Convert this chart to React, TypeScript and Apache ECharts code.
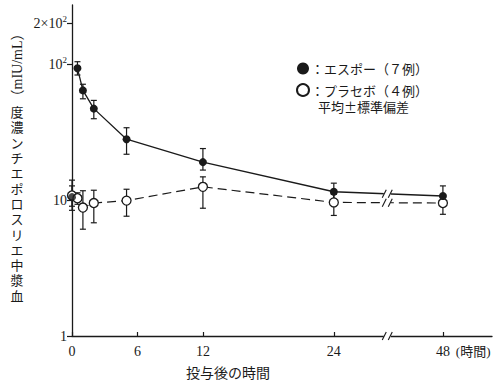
import React, { useEffect, useRef } from 'react';
import * as echarts from 'echarts';

// ---- data ----
const hours = [0, 0.5, 1, 2, 5, 12, 24, 48];
const espoMean = [10.5, 93, 64, 47, 28, 19, 11.5, 10.7];
const espoHigh = [12.7, 104, 71, 54, 34, 23.9, 13.3, 12.7];
const espoLow = [8.4, 83, 55.5, 39.6, 21.7, 16.6, 9.9, 9.0];
const placeboMean = [10.8, 10.3, 8.8, 9.5, 9.9, 12.5, 9.6, 9.5];
const placeboHigh = [14.0, 11.3, 11.7, 11.8, 12.0, 14.8, 11.0, 10.6];
const placeboLow = [9.0, 9.3, 6.1, 6.8, 7.6, 8.7, 7.7, 7.85];

const xTickHours = [0, 6, 12, 24, 48];
const xTickLabels = ['0', '6', '12', '24', '48'];
const yTickValues = [1, 10, 100, 200];
const yTickLabels = ['1', '10', '10{sup|2}', '2×10{sup|2}'];

const espoName = '：エスポー（７例）';
const placeboName = '：プラセボ（４例）';
const noteText = '平均±標準偏差';
const yNameText = '血漿中エリスロポエチン濃度';
const yUnitText = '（mIU/mL）';
const xNameText = '投与後の時間';
const xUnitText = '(時間)';

// ---- axis break mapping (24h -> 48h compressed) ----
const BREAK_FROM = 24;
const POS_48 = 34;
const BREAK_MARK = 28.9;
const X_MAX = 38.5;
const pos = (h: number) => (h <= BREAK_FROM ? h : BREAK_FROM + ((h - BREAK_FROM) * (POS_48 - BREAK_FROM)) / (48 - BREAK_FROM));
const lg = (v: number) => Math.log10(v);

const SERIF = "'Liberation Serif', 'Noto Sans CJK JP', serif";
const CJK = "'Noto Sans CJK JP', 'Liberation Serif', sans-serif";
const INK = '#1a1a1a';

const errorBar = (params: any, api: any) => {
  const x = api.value(0);
  const lo = api.coord([x, api.value(1)]);
  const hi = api.coord([x, api.value(2)]);
  const w = 3;
  const st = { stroke: INK, lineWidth: 1.2 };
  return {
    type: 'group',
    children: [
      { type: 'line', shape: { x1: lo[0], y1: lo[1], x2: hi[0], y2: hi[1] }, style: st },
      { type: 'line', shape: { x1: lo[0] - w, y1: lo[1], x2: lo[0] + w, y2: lo[1] }, style: st },
      { type: 'line', shape: { x1: hi[0] - w, y1: hi[1], x2: hi[0] + w, y2: hi[1] }, style: st },
    ],
  };
};

const breakMark = (params: any, api: any) => {
  const p = api.coord([api.value(0), api.value(1)]);
  const st = { stroke: INK, lineWidth: 1.1 };
  return {
    type: 'group',
    children: [
      { type: 'rect', shape: { x: p[0] - 3.5, y: p[1] - 3, width: 7, height: 6 }, style: { fill: '#fff' } },
      { type: 'line', shape: { x1: p[0] - 5, y1: p[1] + 4, x2: p[0] - 1, y2: p[1] - 4 }, style: st },
      { type: 'line', shape: { x1: p[0] + 1, y1: p[1] + 4, x2: p[0] + 5, y2: p[1] - 4 }, style: st },
    ],
  };
};

const interpAtBreak = (vals: number[]) => {
  const a = lg(vals[hours.indexOf(24)]);
  const b = lg(vals[hours.indexOf(48)]);
  return a + ((BREAK_MARK - pos(24)) / (pos(48) - pos(24))) * (b - a);
};

export default function App() {
  const ref = useRef<HTMLDivElement>(null);
  useEffect(() => {
    document.body.style.margin = '0';
    const chart = echarts.init(ref.current!, null, { renderer: 'svg' });
    const xTickPos = xTickHours.map(pos);
    const yTickPos = yTickValues.map(lg);
    // the first Espo sample (t = 0) is drawn as a lone point; the curve starts at 0.5 h
    const espoPoints = hours.map((h, i) => [pos(h), lg(espoMean[i])]);
    chart.setOption({
      animation: false,
      backgroundColor: '#fff',
      grid: { left: 72, right: 8, top: 5, bottom: 50 },
      title: {
        text: noteText,
        left: 318,
        top: 100,
        padding: 0,
        textStyle: { fontSize: 13, fontWeight: 'normal', color: INK, fontFamily: CJK },
      },
      legend: {
        left: 291,
        top: 57,
        orient: 'vertical',
        icon: 'circle',
        itemWidth: 12,
        itemHeight: 12,
        itemGap: 8,
        selectedMode: false,
        textStyle: { fontSize: 13, color: INK, fontFamily: CJK, padding: [0, 0, 0, -3] },
        data: [espoName, placeboName],
      },
      xAxis: {
        type: 'value',
        min: 0,
        max: X_MAX,
        splitLine: { show: false },
        axisLine: { lineStyle: { color: INK, width: 1.3 } },
        axisTick: { inside: true, length: 4, customValues: xTickPos, lineStyle: { color: INK, width: 1.2 } },
        axisLabel: {
          customValues: xTickPos,
          margin: 8,
          fontSize: 14,
          color: INK,
          fontFamily: SERIF,
          formatter: (v: number) => {
            let best = 0;
            xTickPos.forEach((p, i) => {
              if (Math.abs(p - v) < Math.abs(xTickPos[best] - v)) best = i;
            });
            return xTickLabels[best];
          },
        },
        name: xUnitText,
        nameLocation: 'end',
        nameGap: -40,
        nameTextStyle: { align: 'left', verticalAlign: 'top', padding: [9, 0, 0, 0], fontSize: 13, color: INK, fontFamily: SERIF },
      },
      yAxis: {
        type: 'value',
        min: 0,
        max: 2.434,
        splitLine: { show: false },
        axisLine: { lineStyle: { color: INK, width: 1.3 } },
        axisTick: { length: 5, customValues: yTickPos, lineStyle: { color: INK, width: 1.2 } },
        axisLabel: {
          customValues: yTickPos,
          margin: 5,
          fontSize: 14,
          color: INK,
          fontFamily: SERIF,
          formatter: (v: number) => {
            let best = 0;
            yTickPos.forEach((p, i) => {
              if (Math.abs(p - v) < Math.abs(yTickPos[best] - v)) best = i;
            });
            return yTickLabels[best];
          },
          rich: {
            sup: { fontSize: 9, fontFamily: SERIF, color: INK, padding: [0, 0, 8, 0] },
          },
        },
      },
      graphic: [
        {
          type: 'text',
          x: 17,
          y: 104,
          style: {
            text: yNameText.split('').reverse().join('\n'),
            fontSize: 13,
            lineHeight: 15.3,
            align: 'center',
            verticalAlign: 'top',
            fill: INK,
            fontFamily: CJK,
          },
        },
        {
          type: 'text',
          x: 17,
          y: 65,
          rotation: Math.PI / 2,
          style: { text: yUnitText, fontSize: 14, align: 'center', verticalAlign: 'middle', fill: INK, fontFamily: SERIF },
        },
        {
          type: 'text',
          x: 228,
          y: 372,
          style: { text: xNameText, fontSize: 14, align: 'center', verticalAlign: 'middle', fill: INK, fontFamily: CJK },
        },
      ],
      series: [
        {
          type: 'custom',
          name: 'espoErr',
          renderItem: errorBar,
          z: 1,
          encode: { x: 0, y: [1, 2] },
          data: hours.map((h, i) => [pos(h), lg(espoLow[i]), lg(espoHigh[i])]),
        },
        {
          type: 'custom',
          name: 'placeboErr',
          renderItem: errorBar,
          z: 1,
          encode: { x: 0, y: [1, 2] },
          data: hours.map((h, i) => [pos(h), lg(placeboLow[i]), lg(placeboHigh[i])]),
        },
        {
          type: 'line',
          name: placeboName,
          z: 3,
          symbol: 'circle',
          symbolSize: 9,
          clip: false,
          itemStyle: { color: '#fff', borderColor: INK, borderWidth: 1.3 },
          lineStyle: { color: INK, width: 1.2, type: [9, 5] },
          data: hours.map((h, i) => [pos(h), lg(placeboMean[i])]),
        },
        {
          type: 'line',
          name: espoName,
          z: 4,
          symbol: 'circle',
          symbolSize: 8,
          clip: false,
          itemStyle: { color: INK },
          lineStyle: { color: INK, width: 1.3 },
          data: espoPoints.slice(1),
        },
        {
          type: 'scatter',
          name: espoName,
          z: 4,
          symbol: 'circle',
          symbolSize: 8,
          clip: false,
          itemStyle: { color: INK },
          data: espoPoints.slice(0, 1),
        },
        {
          type: 'custom',
          name: 'breaks',
          renderItem: breakMark,
          z: 5,
          clip: false,
          encode: { x: 0, y: 1 },
          data: [
            [BREAK_MARK, 0],
            [BREAK_MARK, interpAtBreak(espoMean)],
            [BREAK_MARK, interpAtBreak(placeboMean)],
          ],
        },
      ],
    });
    return () => chart.dispose();
  }, []);
  return <div ref={ref} style={{ position: 'fixed', left: 0, top: 0, width: 500, height: 386 }} />;
}
